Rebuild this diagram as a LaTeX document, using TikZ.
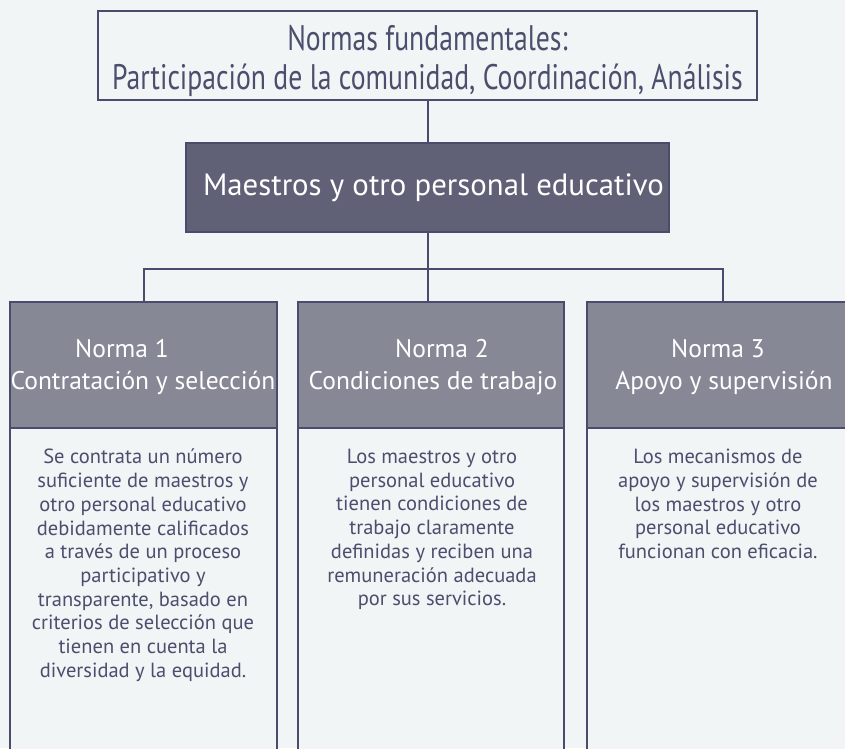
\documentclass[tikz,border=0pt]{standalone}
\usepackage{fontspec}
\setmainfont{PT Sans}
\newfontfamily\condfont{PT Sans}[FakeStretch=0.78]
\definecolor{bg}{HTML}{F1F5F6}
\definecolor{edge}{HTML}{4A4C6E}
\definecolor{mainfill}{HTML}{606177}
\definecolor{headfill}{HTML}{878896}
\definecolor{ink}{HTML}{4B4E6D}
\begin{document}
\begin{tikzpicture}[x=1pt,y=-1pt,
  box/.style={draw=edge,line width=2pt,inner sep=0pt,rectangle},
  headbox/.style={box,fill=headfill},
  bodybox/.style={box,fill=bg},
  headtxt/.style={text=white,font=\fontsize{25.5}{28}\selectfont,inner sep=0pt,anchor=base},
  bodytxt/.style={text=ink,font=\fontsize{20.5}{23.7}\selectfont,align=center,inner sep=0pt,anchor=north},
  link/.style={draw=edge,line width=2pt}]
\fill[bg] (0,0) rectangle (845,748);
\useasboundingbox (0,0) rectangle (845,748);
\clip (0,0) rectangle (845,748);
% top box
\node[box,fill=bg,minimum width=659pt,minimum height=89pt] (top) at (427.5,55.5) {};
\node[text=ink,font=\condfont\fontsize{35.5}{39}\selectfont,align=center,inner sep=0pt] (toptxt) at (427.5,61) {Normas fundamentales:\\Participación de la comunidad, Coordinación, Análisis};
% main box
\node[box,fill=mainfill,minimum width=483pt,minimum height=89pt,text=white,font=\fontsize{30.8}{34}\selectfont] (main) at (427.5,187.5) {\hspace*{12pt}Maestros y otro personal educativo};
% columns
\node[bodybox,minimum width=267pt,minimum height=340pt,anchor=north] (b1) at (143.5,427) {};
\node[bodybox,minimum width=266pt,minimum height=340pt,anchor=north] (b2) at (431,427) {};
\node[bodybox,minimum width=272pt,minimum height=340pt,anchor=north] (b3) at (723,427) {};
\node[headbox,minimum width=267pt,minimum height=126pt,anchor=north] (h1) at (143.5,301) {};
\node[headbox,minimum width=266pt,minimum height=126pt,anchor=north] (h2) at (431,301) {};
\node[headbox,minimum width=272pt,minimum height=126pt,anchor=north] (h3) at (723,301) {};
% connectors
\coordinate (bar) at (0,268.5);
\draw[link] (top.south) -- (main.north);
\draw[link] (main.south) -- (main.south |- h2.north);
\draw[link] (h1.north) |- (bar -| h3.north) -- (h3.north);
% header texts
\node[headtxt] (n1) at (122,357) {Norma 1};
\node[headtxt] (t1) at (143,389) {Contratación y selección};
\node[headtxt] (n2) at (442,357) {Norma 2};
\node[headtxt] (t2) at (433,389) {Condiciones de trabajo};
\node[headtxt] (n3) at (718,357) {Norma 3};
\node[headtxt] (t3) at (724,389) {Apoyo y supervisión};
% body texts
\node[bodytxt] (x1) at (143,449) {Se contrata un número\\suficiente de maestros y\\otro personal educativo\\debidamente calificados\\a través de un proceso\\participativo y\\transparente, basado en\\criterios de selección que\\tienen en cuenta la\\diversidad y la equidad.};
\node[bodytxt] (x2) at (432,449) {Los maestros y otro\\personal educativo\\tienen condiciones de\\trabajo claramente\\definidas y reciben una\\remuneración adecuada\\por sus servicios.};
\node[bodytxt] (x3) at (718,449) {Los mecanismos de\\apoyo y supervisión de\\los maestros y otro\\personal educativo\\funcionan con eficacia.};
\end{tikzpicture}
\end{document}
